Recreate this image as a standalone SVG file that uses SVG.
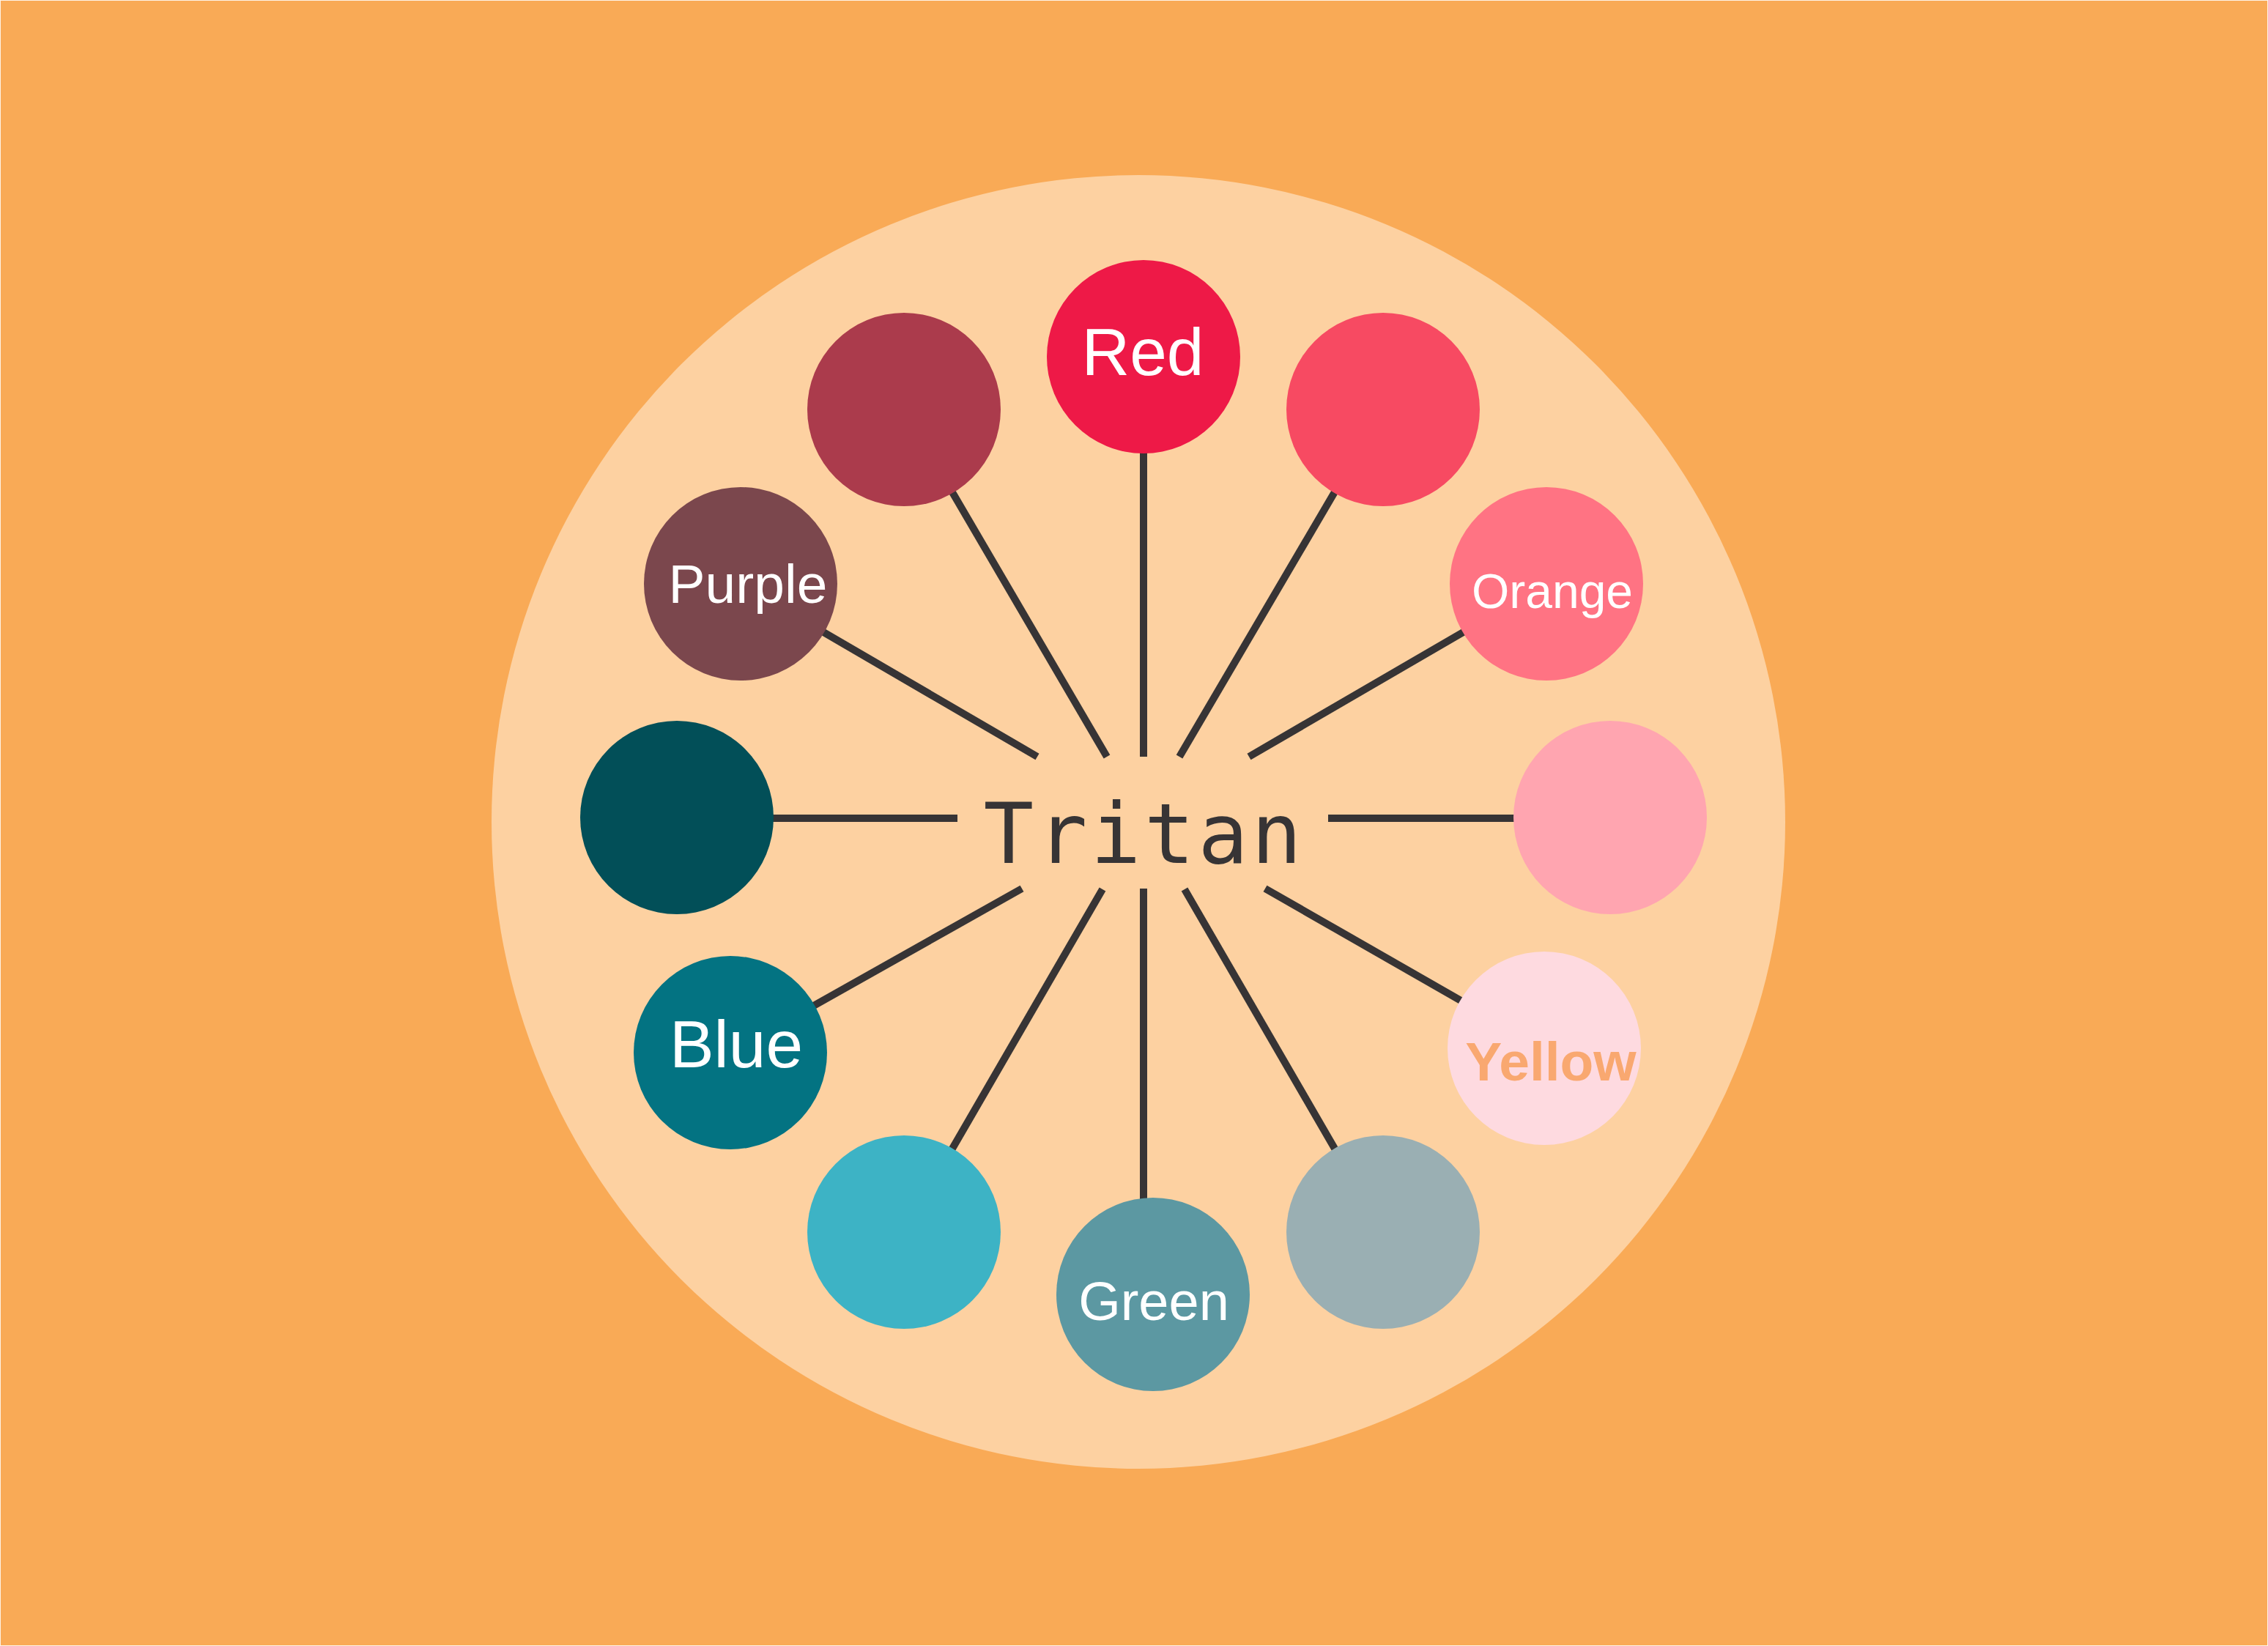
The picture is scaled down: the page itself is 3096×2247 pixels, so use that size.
<svg xmlns="http://www.w3.org/2000/svg" width="3096" height="2247" viewBox="0 0 3096 2247">
  <style>
    .spoke { stroke: #373435; stroke-width: 10; fill: none; }
    .lbl { font-family: "Liberation Sans", Arial, sans-serif; fill: #FFFFFF; text-anchor: middle; }
    .center { font-family: "DejaVu Sans Mono", monospace; fill: #373435; text-anchor: middle; font-size: 114px; letter-spacing: 4.5px; }
  </style>
  <rect x="0" y="0" width="3096" height="2247" fill="#FFF3E6"/>
  <rect x="1" y="1" width="3094" height="2245" fill="#F9AA56"/>
  <circle id="plate" cx="1554" cy="1122" r="883" fill="#FDD1A1"/>

  <g id="connectors">
    <line class="spoke" x1="1561" y1="1033" x2="1561" y2="490"/>
    <line class="spoke" x1="1511" y1="1033" x2="1234" y2="559"/>
    <line class="spoke" x1="1610" y1="1033" x2="1888" y2="559"/>
    <line class="spoke" x1="1416" y1="1033" x2="1011" y2="797"/>
    <line class="spoke" x1="1705" y1="1033" x2="2111" y2="797"/>
    <line class="spoke" x1="1307" y1="1117" x2="924" y2="1117"/>
    <line class="spoke" x1="1813" y1="1117" x2="2198" y2="1117"/>
    <line class="spoke" x1="1395" y1="1213" x2="997" y2="1437"/>
    <line class="spoke" x1="1727" y1="1213" x2="2108" y2="1431"/>
    <line class="spoke" x1="1505" y1="1214" x2="1234" y2="1682"/>
    <line class="spoke" x1="1561" y1="1213" x2="1561" y2="1680"/>
    <line class="spoke" x1="1617" y1="1214" x2="1888" y2="1682"/>
  </g>

  <g id="node-red">
    <circle cx="1561" cy="487" r="132" fill="#EE1947"/>
    <text class="lbl" x="1560" y="512" font-size="91">Red</text>
  </g>
  <g id="node-crimson">
    <circle cx="1234" cy="559" r="132" fill="#AB3B4C"/>
  </g>
  <g id="node-rose">
    <circle cx="1888" cy="559" r="132" fill="#F74A62"/>
  </g>
  <g id="node-purple">
    <circle cx="1011" cy="797" r="132" fill="#7B474D"/>
    <text class="lbl" x="1021" y="823" font-size="75">Purple</text>
  </g>
  <g id="node-orange">
    <circle cx="2111" cy="797" r="132" fill="#FF7383"/>
    <text class="lbl" x="2119" y="830" font-size="66">Orange</text>
  </g>
  <g id="node-darkteal">
    <circle cx="924" cy="1116" r="132" fill="#024F58"/>
  </g>
  <g id="node-pink">
    <circle cx="2198" cy="1116" r="132" fill="#FFA5B0"/>
  </g>
  <g id="node-blue">
    <circle cx="997" cy="1437" r="132" fill="#037382"/>
    <text class="lbl" x="1005" y="1457" font-size="91">Blue</text>
  </g>
  <g id="node-yellow">
    <circle cx="2108" cy="1431" r="132" fill="#FEDAE0"/>
    <text class="lbl" x="2117" y="1475" font-size="75" font-weight="bold" fill="#F9A870" style="fill:#F9A870">Yellow</text>
  </g>
  <g id="node-lightteal">
    <circle cx="1234" cy="1682" r="132" fill="#3DB3C5"/>
  </g>
  <g id="node-green">
    <circle cx="1574" cy="1767" r="132" fill="#5C98A2"/>
    <text class="lbl" x="1575" y="1802" font-size="74">Green</text>
  </g>
  <g id="node-gray">
    <circle cx="1888" cy="1682" r="132" fill="#9AAFB3"/>
  </g>

  <g id="node-tritan">
    <text class="center" x="1562" y="1178">Tritan</text>
  </g>
</svg>
